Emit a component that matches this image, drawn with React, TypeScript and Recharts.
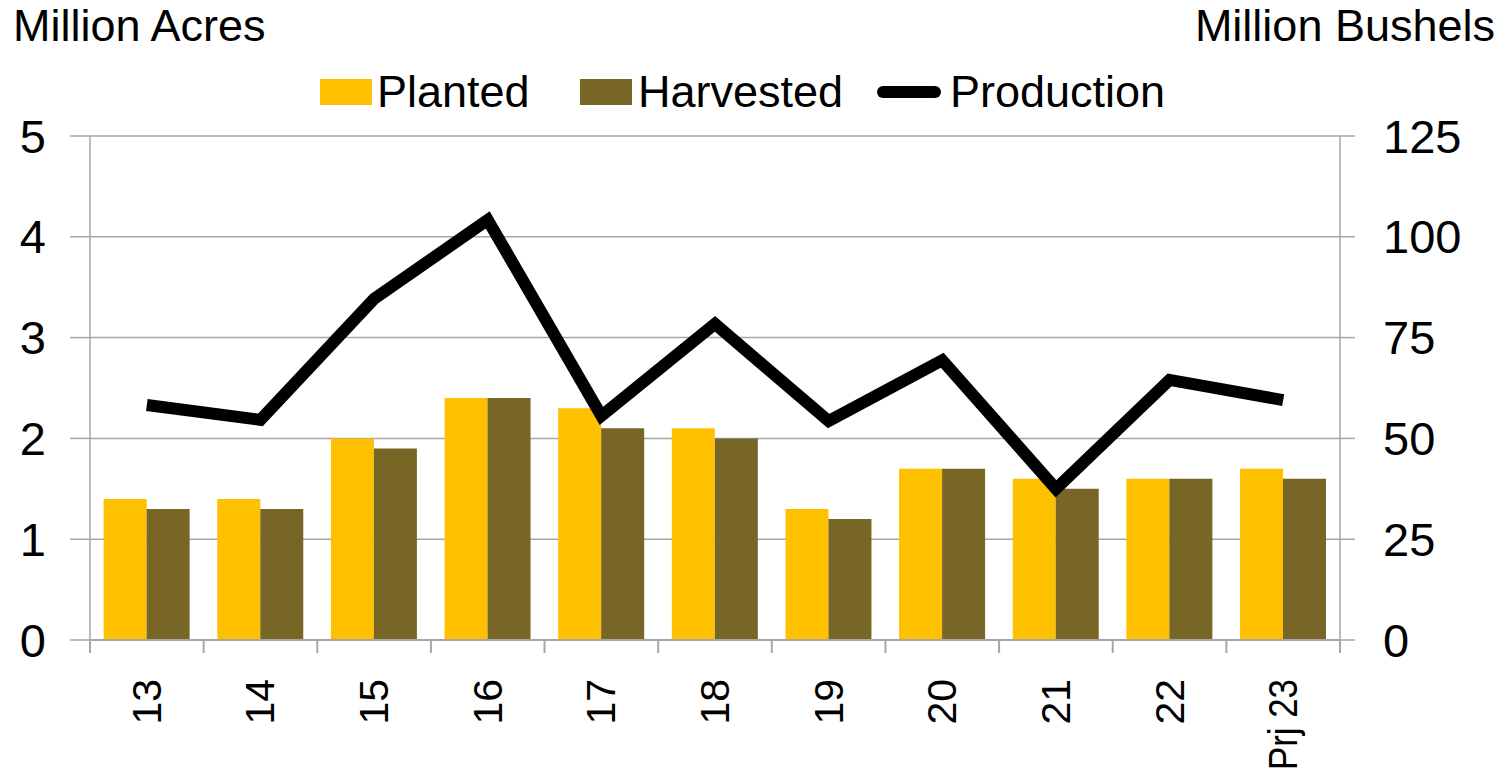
import React from 'react';
import { ComposedChart, Bar, Line, XAxis, YAxis, CartesianGrid } from 'recharts';

const years = ['13', '14', '15', '16', '17', '18', '19', '20', '21', '22', 'Prj 23'];
const planted = [1.4, 1.4, 2.0, 2.4, 2.3, 2.1, 1.3, 1.7, 1.6, 1.6, 1.7];
const harvested = [1.3, 1.3, 1.9, 2.4, 2.1, 2.0, 1.2, 1.7, 1.5, 1.6, 1.6];
const production = [58.3, 54.6, 84.6, 104.2, 55.6, 78.4, 54.3, 69.4, 37.5, 64.5, 59.5];
const acresTicks = [0, 1, 2, 3, 4, 5];
const bushelTicks = [0, 25, 50, 75, 100, 125];

const FONT = '"Liberation Sans", Arial, sans-serif';
const GOLD = '#FFC000';
const OLIVE = '#786627';
const GRID = '#a6a6a6';

const W = 1507;
const H = 776;
const PLOT_L = 90;
const PLOT_R = 1340;
const PLOT_B = 640;
const BAND = (PLOT_R - PLOT_L) / years.length;

const data = years.map((y, i) => ({
  year: y,
  planted: planted[i],
  harvested: harvested[i],
  production: production[i],
}));

// category label plus tick marks on the category boundaries
function YearTick(props: any) {
  const { x, payload, index } = props;
  const long = String(payload.value).length > 3;
  const ty = 679;
  return (
    <g>
      <line x1={x - BAND / 2} x2={x - BAND / 2} y1={PLOT_B} y2={PLOT_B + 13} stroke={GRID} strokeWidth={2} />
      {index === years.length - 1 && (
        <line x1={x + BAND / 2} x2={x + BAND / 2} y1={PLOT_B} y2={PLOT_B + 13} stroke={GRID} strokeWidth={2} />
      )}
      <text
        x={x}
        y={ty}
        transform={`rotate(-90 ${x} ${ty})`}
        textAnchor="end"
        dominantBaseline="central"
        fontSize={41}
        fontFamily={FONT}
        fill="#000"
        textLength={long ? 91 : undefined}
        lengthAdjust={long ? 'spacingAndGlyphs' : undefined}
      >
        {payload.value}
      </text>
    </g>
  );
}

export default function App() {
  const label = { fontSize: 47, fontFamily: FONT, fill: '#000' };
  const txt: React.CSSProperties = { position: 'absolute', fontSize: 45, lineHeight: '46px', whiteSpace: 'nowrap' };
  return (
    <div style={{ position: 'absolute', left: 0, top: 0, width: W, height: H, background: '#fff', fontFamily: FONT, overflow: 'hidden' }}>
      <div style={{ ...txt, left: 13, top: 3 }}>Million Acres</div>
      <div style={{ ...txt, right: 12, top: 3 }}>Million Bushels</div>

      {/* legend */}
      <div style={{ position: 'absolute', left: 320, top: 79, width: 52, height: 26, background: GOLD }} />
      <div style={{ ...txt, left: 377, top: 69 }}>Planted</div>
      <div style={{ position: 'absolute', left: 580, top: 79, width: 52, height: 26, background: OLIVE }} />
      <div style={{ ...txt, left: 638, top: 69 }}>Harvested</div>
      <div style={{ position: 'absolute', left: 877, top: 86, width: 64, height: 12, borderRadius: 6, background: '#000' }} />
      <div style={{ ...txt, left: 950, top: 69 }}>Production</div>

      <div style={{ position: 'absolute', left: 0, top: 0 }}>
        <ComposedChart
          width={W}
          height={H}
          data={data}
          margin={{ top: 136, right: 0, bottom: 0, left: 0 }}
          barCategoryGap="12%"
          barGap={0}
        >
          <CartesianGrid vertical={false} stroke={GRID} strokeWidth={1.5} yAxisId="acres" />
          <XAxis
            dataKey="year"
            height={H - PLOT_B}
            tick={<YearTick />}
            tickLine={false}
            axisLine={{ stroke: GRID, strokeWidth: 2 }}
            interval={0}
          />
          <YAxis
            yAxisId="acres"
            orientation="left"
            width={PLOT_L}
            domain={[0, 5]}
            ticks={acresTicks}
            tick={label}
            tickSize={20}
            tickMargin={24}
            axisLine={{ stroke: GRID, strokeWidth: 1.5 }}
            tickLine={{ stroke: GRID, strokeWidth: 1.5 }}
          />
          <YAxis
            yAxisId="bushels"
            orientation="right"
            width={W - PLOT_R}
            domain={[0, 125]}
            ticks={bushelTicks}
            tick={{ ...label, textAnchor: 'start' }}
            tickSize={15}
            tickMargin={28}
            axisLine={{ stroke: GRID, strokeWidth: 1.5 }}
            tickLine={{ stroke: GRID, strokeWidth: 1.5 }}
          />
          <Bar yAxisId="acres" dataKey="planted" fill={GOLD} isAnimationActive={false} />
          <Bar yAxisId="acres" dataKey="harvested" fill={OLIVE} isAnimationActive={false} />
          <Line
            yAxisId="bushels"
            dataKey="production"
            stroke="#000"
            strokeWidth={12}
            strokeLinejoin="miter"
            dot={false}
            activeDot={false}
            isAnimationActive={false}
          />
        </ComposedChart>
      </div>
    </div>
  );
}
